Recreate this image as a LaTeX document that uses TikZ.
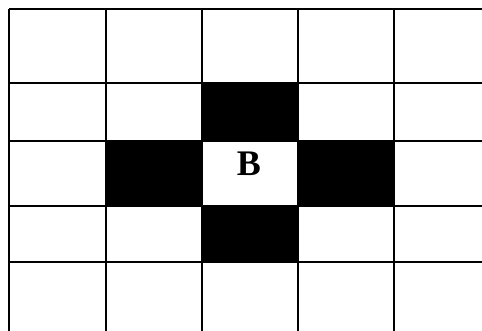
\documentclass[tikz,border=0pt]{standalone}
\usepackage{fontspec}
\setmainfont{Liberation Serif}

\begin{document}
\begin{tikzpicture}[x=1pt,y=-1pt]
    % Page frame (the grid runs off the right and bottom edges)
    \useasboundingbox (0,0) rectangle (482,331);
    \fill[white] (0,0) rectangle (482,331);
    \clip (0,0) rectangle (482,331);

    % Define the corners of the centre cell
    \coordinate (P) at (202,141);
    \coordinate (Q) at (298,206);

    % Fill the four black neighbours
    \fill (202,83) rectangle (298,141);
    \fill (106,141) rectangle (202,206);
    \fill (298,141) rectangle (394,206);
    \fill (202,206) rectangle (298,262);

    % Draw the grid lines
    \foreach \x in {9,106,202,298,394}
        \draw[line width=1.4] (\x,9) -- (\x,340);
    \foreach \y in {9,83,141,206,262}
        \draw[line width=1.4] (9,\y) -- (490,\y);

    % Place the label in the centre cell
    \node (B) at (249,175.3) [anchor=base,inner sep=0pt,font=\fontsize{36}{40}\selectfont\bfseries] {B};

\end{tikzpicture}
\end{document}
